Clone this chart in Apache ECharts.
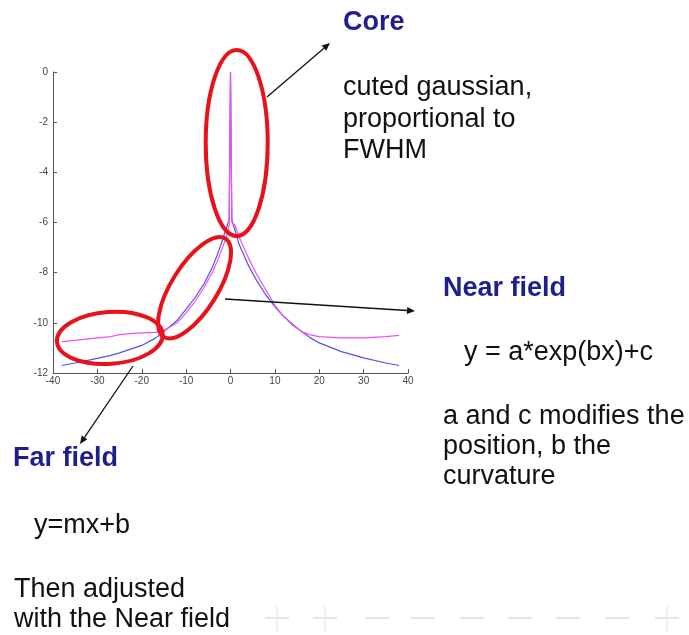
<!DOCTYPE html>
<html>
<head>
<meta charset="utf-8">
<script src="https://cdn.jsdelivr.net/npm/echarts@6/dist/echarts.min.js"></script>
<style>
  html, body { margin: 0; padding: 0; background: #fff; }
  #chart { width: 689px; height: 635px; }
</style>
</head>
<body>
<div id="chart"></div>
<script>
// psf profile, log scale
const xValues = [-38, -35, -30, -27, -25, -22, -20, -17, -15, -12, -10, -8, -6, -4, -3, -2, -1, -0.3, 0, 0.3, 1, 2, 3, 4, 6, 8, 10, 12, 14, 16, 18, 20, 25, 30, 35, 38]
const blueValues = [-11.7, -11.6, -11.42, -11.3, -11.2, -11.02, -10.9, -10.62, -10.35, -9.9, -9.45, -9.0, -8.45, -7.75, -7.3, -6.8, -6.25, -5.9, 0, -5.9, -6.3, -6.9, -7.3, -7.7, -8.35, -8.9, -9.35, -9.75, -10.05, -10.35, -10.6, -10.8, -11.15, -11.4, -11.6, -11.7]
const magentaValues = [-10.75, -10.7, -10.6, -10.55, -10.47, -10.42, -10.4, -10.38, -10.3, -10.0, -9.6, -9.15, -8.6, -7.95, -7.55, -7.1, -6.6, -6.1, 0, -6.0, -6.1, -6.6, -7.0, -7.4, -8.1, -8.7, -9.3, -9.75, -10.1, -10.35, -10.48, -10.55, -10.6, -10.6, -10.55, -10.5]

// annotation ellipses: centre in data units, radii in px, rotation in degrees
const ellipseCenters = [[1.4, -2.83], [-8.1, -8.6], [-27.2, -10.6]]
const ellipseRadii = [[31, 93], [58, 23], [53, 26]]
const ellipseAngles = [0, 58, 4]

const chart = echarts.init(document.getElementById('chart'), null, { renderer: 'canvas' })

const textFont = '27px "Liberation Sans", Arial, sans-serif'
const titleFont = 'bold 27px "Liberation Sans", Arial, sans-serif'
const titleColor = '#1f1f8c'
const bodyColor = '#111'

function arrow(x1, y1, x2, y2) {
  const ang = Math.atan2(y2 - y1, x2 - x1)
  const len = 8
  const wid = 3.5
  const bx = x2 - len * Math.cos(ang)
  const by = y2 - len * Math.sin(ang)
  const px = -Math.sin(ang) * wid
  const py = Math.cos(ang) * wid
  return [
    { type: 'line', shape: { x1, y1, x2: bx, y2: by }, style: { stroke: '#111', lineWidth: 1.3 }, z: 20 },
    { type: 'polygon', shape: { points: [[x2, y2], [bx + px, by + py], [bx - px, by - py]] }, style: { fill: '#111' }, z: 20 },
  ]
}

function textEl(text, x, y, font, color, lineHeight) {
  return { type: 'text', x, y, z: 20, style: { text, font, fill: color, lineHeight: lineHeight || 31, verticalAlign: 'top' } }
}

chart.setOption({
  backgroundColor: '#fff',
  animation: false,
  grid: { left: 53, right: 281, top: 72, bottom: 262 },
  xAxis: {
    type: 'value',
    min: -40,
    max: 40,
    interval: 10,
    axisLine: { onZero: false, lineStyle: { color: '#555', width: 1 } },
    axisTick: { inside: true, length: 4, lineStyle: { color: '#555' } },
    axisLabel: { color: '#444', fontSize: 10, margin: 3, fontFamily: 'Liberation Sans' },
    splitLine: { show: false },
  },
  yAxis: {
    type: 'value',
    min: -12,
    max: 0,
    interval: 2,
    axisLine: { show: true, onZero: false, lineStyle: { color: '#555', width: 1 } },
    axisTick: { show: true, inside: true, length: 4, lineStyle: { color: '#555' } },
    axisLabel: { color: '#444', fontSize: 10, margin: 5, fontFamily: 'Liberation Sans' },
    splitLine: { show: false },
  },
  series: [
    {
      name: 'blue',
      type: 'line',
      data: xValues.map((x, i) => [x, blueValues[i]]),
      showSymbol: false,
      lineStyle: { color: '#5050f0', width: 1.2 },
    },
    {
      name: 'magenta',
      type: 'line',
      data: xValues.map((x, i) => [x, magentaValues[i]]),
      showSymbol: false,
      lineStyle: { color: '#f050f0', width: 1.2 },
    },
  ],
})

const graphics = []
ellipseCenters.forEach((c, i) => {
  const p = chart.convertToPixel({ gridIndex: 0 }, c)
  graphics.push({
    type: 'ellipse',
    x: p[0],
    y: p[1],
    rotation: ellipseAngles[i] * Math.PI / 180,
    shape: { cx: 0, cy: 0, rx: ellipseRadii[i][0], ry: ellipseRadii[i][1] },
    style: { fill: 'none', stroke: '#e8121c', lineWidth: 4 },
    z: 15,
  })
})

graphics.push(...arrow(267, 97, 330, 43))
graphics.push(...arrow(225, 299, 415, 311))
graphics.push(...arrow(133, 366, 80, 444))

graphics.push(textEl('Core', 343, 7, titleFont, titleColor))
graphics.push(textEl('cuted gaussian,\nproportional to\nFWHM', 343, 72, textFont, bodyColor, 31.5))
graphics.push(textEl('Near field', 443, 273, titleFont, titleColor))
graphics.push(textEl('y = a*exp(bx)+c', 464, 337, textFont, bodyColor))
graphics.push(textEl('a and c modifies the\nposition, b the\ncurvature', 443, 402, textFont, bodyColor, 30))
graphics.push(textEl('Far field', 13, 443, titleFont, titleColor))
graphics.push(textEl('y=mx+b', 34, 510, textFont, bodyColor))
graphics.push(textEl('Then adjusted\nwith the Near field', 14, 575, textFont, bodyColor, 30))

// faint slide guide marks along the bottom
const guideX = [277, 325, 377, 423, 472, 520, 568, 617, 667]
const guideCross = [true, true, false, false, false, false, false, false, true]
guideX.forEach((gx, i) => {
  graphics.push({ type: 'line', shape: { x1: gx - 12, y1: 618, x2: gx + 12, y2: 618 }, style: { stroke: '#e6e6e6', lineWidth: 2 }, z: 1 })
  if (guideCross[i]) {
    graphics.push({ type: 'line', shape: { x1: gx, y1: 606, x2: gx, y2: 632 }, style: { stroke: '#ebebeb', lineWidth: 1.5 }, z: 1 })
  }
})

chart.setOption({ graphic: graphics })
</script>
</body>
</html>
